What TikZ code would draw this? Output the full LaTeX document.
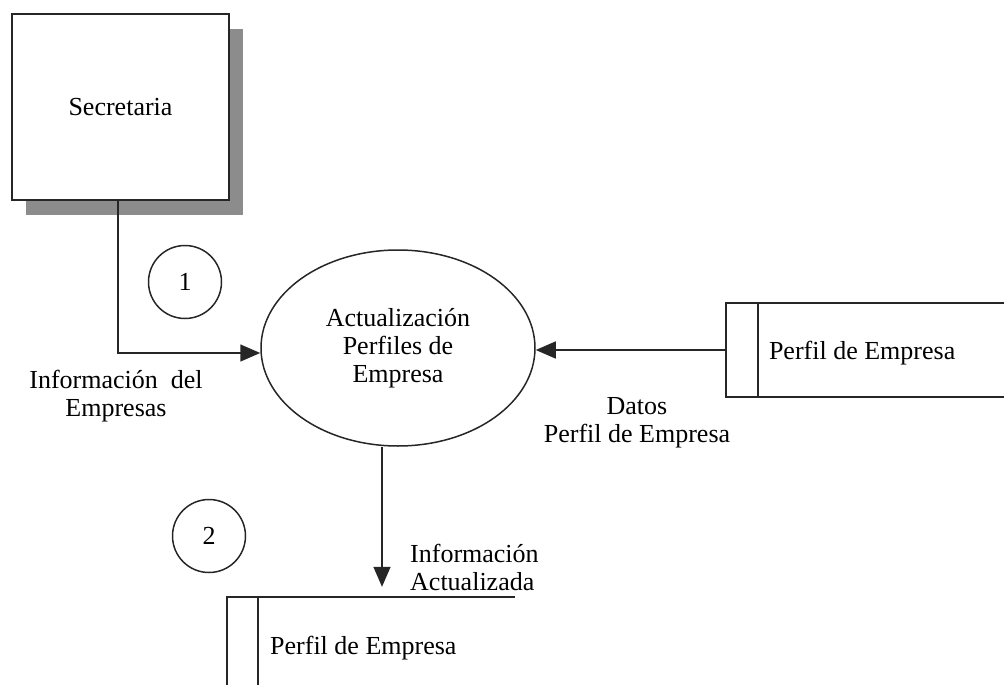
\documentclass[tikz,border=0pt]{standalone}
\usepackage{fontspec}
\setmainfont{Liberation Serif}
\usetikzlibrary{shapes.geometric,arrows.meta,shadows}
\begin{document}
\begin{tikzpicture}[x=1pt,y=-1pt,
  every node/.style={font=\fontsize{26}{28}\selectfont, inner sep=0pt},
  ln/.style={line width=1.5pt, draw=black!85},
  flow/.style={ln, -{Triangle[length=20pt,width=17pt]}},
  entity/.style={rectangle, ln, fill=white, minimum width=217pt, minimum height=186pt,
    drop shadow={shadow xshift=14pt, shadow yshift=-15pt, fill=black!45, opacity=1}},
  num/.style={circle, ln, minimum size=73pt},
  proc/.style={ellipse, ln, minimum width=274pt, minimum height=196pt, align=center},
  storebox/.style={rectangle, draw=none},
  lbl/.style={align=center}
]
\useasboundingbox (0,0) rectangle (1004,685);

\node[entity] (sec) at (120.5,107) {Secretaria};
\node[num] (c1) at (185,282) {1};
\node[proc] (pr) at (398,348) {Actualización\\Perfiles de\\Empresa};
\node[num] (c2) at (209,536) {2};

% right data store (open at the right edge)
\node[storebox, minimum width=278pt, minimum height=94pt] (st1) at (865,350) {};
\draw[ln] (st1.north east) -- (st1.north west) -- (st1.south west) -- (st1.south east);
\draw[ln] ([xshift=32pt]st1.north west) -- ([xshift=32pt]st1.south west);
\node[anchor=west] (st1t) at ([xshift=43pt,yshift=-3pt]st1.west) {Perfil de Empresa};

% bottom data store (cut by the lower edge)
\node[storebox, minimum width=288pt, minimum height=88pt] (st2) at (371,641) {};
\draw[ln] (st2.north east) -- (st2.north west) -- (st2.south west);
\draw[ln] ([xshift=31pt]st2.north west) -- ([xshift=31pt]st2.south west);
\node[anchor=west] (st2t) at (270,648) {Perfil de Empresa};

% flows
\draw[flow] ([xshift=-2.5pt]sec.south) |- ([yshift=-5pt]pr.west);
\draw[flow] (st1.west) -- (st1.west -| pr.east);
\draw[flow] ([xshift=-16pt]pr.south) -- ([xshift=-16pt]pr.south |- st2.north) [shorten >=10pt];

% flow labels
\node[lbl] (l1) at (116,396) {Información\ \ del\\Empresas};
\node[lbl] (l2) at (637,423) {Datos\\Perfil de Empresa};
\node[align=left, anchor=west] (l3) at (410,567) {Información\\Actualizada};
\end{tikzpicture}
\end{document}
